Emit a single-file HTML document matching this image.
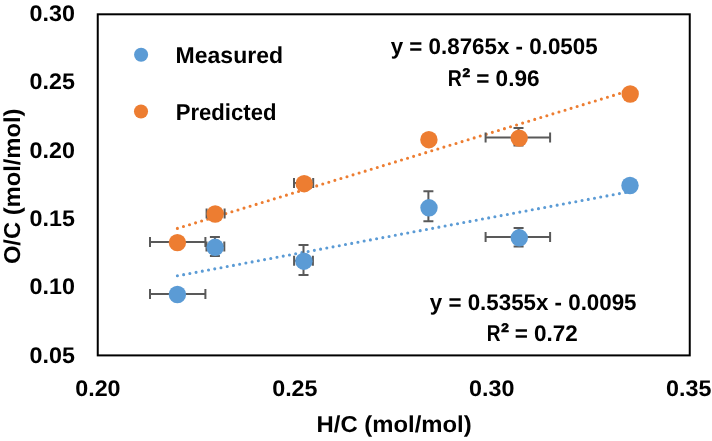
<!DOCTYPE html>
<html><head><meta charset="utf-8"><style>
html,body{margin:0;padding:0;background:#fff;}
svg{display:block;}
</style></head><body>
<svg width="712" height="441" viewBox="0 0 712 441">
<rect x="97.75" y="14.3" width="592.0" height="341.1" fill="none" stroke="#000" stroke-width="2"/>
<g style="will-change:transform">
<text x="29.58" y="21.00" font-size="22.6" textLength="45.38" lengthAdjust="spacingAndGlyphs" font-family="Liberation Sans, sans-serif" font-weight="bold" text-rendering="geometricPrecision">0.30</text>
<text x="29.58" y="89.32" font-size="22.6" textLength="45.38" lengthAdjust="spacingAndGlyphs" font-family="Liberation Sans, sans-serif" font-weight="bold" text-rendering="geometricPrecision">0.25</text>
<text x="29.58" y="157.64" font-size="22.6" textLength="45.38" lengthAdjust="spacingAndGlyphs" font-family="Liberation Sans, sans-serif" font-weight="bold" text-rendering="geometricPrecision">0.20</text>
<text x="29.58" y="225.96" font-size="22.6" textLength="45.38" lengthAdjust="spacingAndGlyphs" font-family="Liberation Sans, sans-serif" font-weight="bold" text-rendering="geometricPrecision">0.15</text>
<text x="29.58" y="294.28" font-size="22.6" textLength="45.38" lengthAdjust="spacingAndGlyphs" font-family="Liberation Sans, sans-serif" font-weight="bold" text-rendering="geometricPrecision">0.10</text>
<text x="29.58" y="362.60" font-size="22.6" textLength="45.38" lengthAdjust="spacingAndGlyphs" font-family="Liberation Sans, sans-serif" font-weight="bold" text-rendering="geometricPrecision">0.05</text>
<text x="75.21" y="396.00" font-size="22.6" textLength="45.38" lengthAdjust="spacingAndGlyphs" font-family="Liberation Sans, sans-serif" font-weight="bold" text-rendering="geometricPrecision">0.20</text>
<text x="272.18" y="396.00" font-size="22.6" textLength="45.38" lengthAdjust="spacingAndGlyphs" font-family="Liberation Sans, sans-serif" font-weight="bold" text-rendering="geometricPrecision">0.25</text>
<text x="469.14" y="396.00" font-size="22.6" textLength="45.38" lengthAdjust="spacingAndGlyphs" font-family="Liberation Sans, sans-serif" font-weight="bold" text-rendering="geometricPrecision">0.30</text>
<text x="666.11" y="396.00" font-size="22.6" textLength="45.38" lengthAdjust="spacingAndGlyphs" font-family="Liberation Sans, sans-serif" font-weight="bold" text-rendering="geometricPrecision">0.35</text>
<text x="316.60" y="432.30" font-size="23" textLength="155.08" lengthAdjust="spacingAndGlyphs" font-family="Liberation Sans, sans-serif" font-weight="bold" text-rendering="geometricPrecision">H/C (mol/mol)</text>
<text transform="translate(20.10,264.07) rotate(-90)" font-size="23" textLength="155.45" lengthAdjust="spacingAndGlyphs" font-family="Liberation Sans, sans-serif" font-weight="bold" text-rendering="geometricPrecision">O/C (mol/mol)</text>
<text x="175.56" y="63.00" font-size="23" textLength="107.46" lengthAdjust="spacingAndGlyphs" font-family="Liberation Sans, sans-serif" font-weight="bold" text-rendering="geometricPrecision">Measured</text>
<text x="175.72" y="120.30" font-size="23" textLength="100.74" lengthAdjust="spacingAndGlyphs" font-family="Liberation Sans, sans-serif" font-weight="bold" text-rendering="geometricPrecision">Predicted</text>
<text x="390.73" y="53.70" font-size="22.6" textLength="206.90" lengthAdjust="spacingAndGlyphs" font-family="Liberation Sans, sans-serif" font-weight="bold" text-rendering="geometricPrecision">y = 0.8765x - 0.0505</text>
<text x="429.83" y="309.70" font-size="22.6" textLength="206.70" lengthAdjust="spacingAndGlyphs" font-family="Liberation Sans, sans-serif" font-weight="bold" text-rendering="geometricPrecision">y = 0.5355x - 0.0095</text>
<text x="447.79" y="85.80" font-size="23" textLength="14.11" lengthAdjust="spacingAndGlyphs" font-family="Liberation Sans, sans-serif" font-weight="bold" text-rendering="geometricPrecision">R</text>
<text x="462.58" y="76.80" font-size="12.4" textLength="7.62" lengthAdjust="spacingAndGlyphs" font-family="Liberation Sans, sans-serif" font-weight="bold" text-rendering="geometricPrecision" stroke="#000" stroke-width="0.7" stroke-linejoin="round">2</text>
<text x="476.16" y="85.80" font-size="22.6" textLength="63.35" lengthAdjust="spacingAndGlyphs" font-family="Liberation Sans, sans-serif" font-weight="bold" text-rendering="geometricPrecision">= 0.96</text>
<text x="486.83" y="340.80" font-size="23" textLength="13.76" lengthAdjust="spacingAndGlyphs" font-family="Liberation Sans, sans-serif" font-weight="bold" text-rendering="geometricPrecision">R</text>
<text x="501.38" y="331.60" font-size="12.4" textLength="7.62" lengthAdjust="spacingAndGlyphs" font-family="Liberation Sans, sans-serif" font-weight="bold" text-rendering="geometricPrecision" stroke="#000" stroke-width="0.7" stroke-linejoin="round">2</text>
<text x="514.67" y="340.80" font-size="22.6" textLength="63.13" lengthAdjust="spacingAndGlyphs" font-family="Liberation Sans, sans-serif" font-weight="bold" text-rendering="geometricPrecision">= 0.72</text>
</g>
<circle cx="141.1" cy="54.7" r="7.05" fill="#5B9BD5"/>
<circle cx="141.0" cy="111.5" r="7.05" fill="#ED7D31"/>
<line x1="177.4" y1="228.4" x2="630.2" y2="90.3" stroke="#ED7D31" stroke-width="3.1" stroke-linecap="round" stroke-dasharray="0 6.332"/>
<line x1="177.4" y1="275.8" x2="630.1" y2="191.6" stroke="#5B9BD5" stroke-width="3.1" stroke-linecap="round" stroke-dasharray="0 6.332"/>
<path d="M150.0 237.0V247.0M205.4 237.0V247.0M150.0 242.0H205.4" stroke="#595959" stroke-width="2" fill="none"/>
<path d="M150.0 288.9V298.9M205.4 288.9V298.9M150.0 293.9H205.4" stroke="#595959" stroke-width="2" fill="none"/>
<path d="M206.6 208.4V218.4M224.6 208.4V218.4M206.6 213.4H224.6" stroke="#595959" stroke-width="2" fill="none"/>
<path d="M206.5 241.6V251.6M224.3 241.6V251.6M206.5 246.6H224.3" stroke="#595959" stroke-width="2" fill="none"/>
<path d="M209.9 237.1H219.9M209.9 255.9H219.9M214.9 237.1V255.9" stroke="#595959" stroke-width="2" fill="none"/>
<path d="M294.0 178.1V188.1M313.2 178.1V188.1M294.0 183.1H313.2" stroke="#595959" stroke-width="2" fill="none"/>
<path d="M294.1 255.7V265.7M312.9 255.7V265.7M294.1 260.7H312.9" stroke="#595959" stroke-width="2" fill="none"/>
<path d="M298.5 245.0H308.5M298.5 274.9H308.5M303.5 245.0V274.9" stroke="#595959" stroke-width="2" fill="none"/>
<path d="M423.4 191.2H433.4M423.4 221.2H433.4M428.4 191.2V221.2" stroke="#595959" stroke-width="2" fill="none"/>
<path d="M485.6 132.5V142.5M550.1 132.5V142.5M485.6 137.5H550.1" stroke="#595959" stroke-width="2" fill="none"/>
<path d="M513.5 128.0H523.5M513.5 145.6H523.5M518.5 128.0V145.6" stroke="#595959" stroke-width="2" fill="none"/>
<path d="M485.6 232.1V242.1M550.1 232.1V242.1M485.6 237.1H550.1" stroke="#595959" stroke-width="2" fill="none"/>
<path d="M513.6 227.9H523.6M513.6 246.6H523.6M518.6 227.9V246.6" stroke="#595959" stroke-width="2" fill="none"/>
<circle cx="177.4" cy="294.5" r="8.7" fill="#5B9BD5"/>
<circle cx="215.15" cy="247.3" r="8.7" fill="#5B9BD5"/>
<circle cx="303.9" cy="261.2" r="8.7" fill="#5B9BD5"/>
<circle cx="429.0" cy="207.8" r="8.7" fill="#5B9BD5"/>
<circle cx="519.3" cy="237.8" r="8.7" fill="#5B9BD5"/>
<circle cx="630.0" cy="185.5" r="8.7" fill="#5B9BD5"/>
<circle cx="177.4" cy="242.6" r="8.7" fill="#ED7D31"/>
<circle cx="215.2" cy="214.0" r="8.7" fill="#ED7D31"/>
<circle cx="304.2" cy="183.7" r="8.7" fill="#ED7D31"/>
<circle cx="428.9" cy="139.7" r="8.7" fill="#ED7D31"/>
<circle cx="519.2" cy="138.1" r="8.7" fill="#ED7D31"/>
<circle cx="630.2" cy="94.0" r="8.7" fill="#ED7D31"/>
</svg>
</body></html>
